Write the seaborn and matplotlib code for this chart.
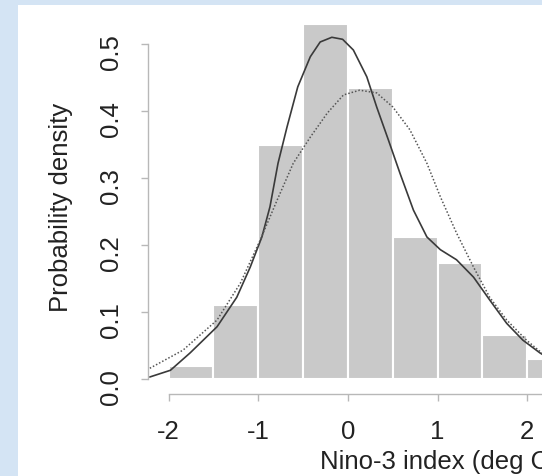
import matplotlib
matplotlib.use('Agg')
import matplotlib.pyplot as plt
import seaborn as sns
from matplotlib.patches import Rectangle
from matplotlib.ticker import FormatStrFormatter

# histogram of the Nino-3 index (density per 0.5 deg bin)
bin_edges = [-2.0, -1.5, -1.0, -0.5, 0.0, 0.5, 1.0, 1.5, 2.0, 2.5]
bin_density = [0.019, 0.111, 0.349, 0.530, 0.434, 0.212, 0.173, 0.066, 0.030]

# kernel density estimate (solid curve)
kde_x = [-2.21, -1.98, -1.76, -1.46, -1.24, -1.09, -0.96, -0.87, -0.78, -0.68,
         -0.56, -0.42, -0.31, -0.18, -0.06, 0.06, 0.21, 0.32, 0.45, 0.58,
         0.73, 0.88, 1.03, 1.21, 1.40, 1.58, 1.77, 1.95, 2.14, 2.30]
kde_y = [0.003, 0.013, 0.039, 0.078, 0.122, 0.167, 0.212, 0.257, 0.322, 0.376,
         0.436, 0.481, 0.503, 0.510, 0.507, 0.491, 0.451, 0.406, 0.357, 0.307,
         0.252, 0.212, 0.193, 0.178, 0.152, 0.118, 0.083, 0.058, 0.039, 0.026]

# fitted normal density (dotted curve)
norm_x = [-2.21, -1.84, -1.46, -1.20, -0.98, -0.79, -0.61, -0.42, -0.23, -0.05,
          0.13, 0.32, 0.50, 0.69, 0.88, 1.03, 1.21, 1.40, 1.58, 1.77,
          1.99, 2.16, 2.30]
norm_y = [0.016, 0.043, 0.088, 0.143, 0.207, 0.267, 0.322, 0.361, 0.397, 0.424,
          0.431, 0.427, 0.406, 0.372, 0.322, 0.272, 0.218, 0.167, 0.122, 0.088,
          0.058, 0.039, 0.028]

bin_mid = [(a + b) / 2 for a, b in zip(bin_edges[:-1], bin_edges[1:])]

sns.set_style('white')
plt.rcParams['font.family'] = ['Liberation Sans', 'DejaVu Sans']
plt.rcParams['axes.unicode_minus'] = False

fig = plt.figure(figsize=(5.42, 4.76), dpi=100)
fig.patch.set_facecolor('#d4e4f4')
fig.patches.append(Rectangle((18 / 542, 0), 1, 471 / 476, transform=fig.transFigure,
                             facecolor='white', edgecolor='none', zorder=-10))

# plot region runs past the right edge of the picture (the original is cropped)
ax = fig.add_axes([148 / 542, 82 / 476, 582 / 542, 374 / 476])
ax.patch.set_alpha(0)

sns.histplot(x=bin_mid, weights=bin_density, bins=bin_edges, stat='count',
             color='#c9c9c9', edgecolor='white', linewidth=1.5, alpha=1, ax=ax)
sns.lineplot(x=kde_x, y=kde_y, estimator=None, sort=False, color='#3a3a3a',
             linewidth=1.2, ax=ax)
sns.lineplot(x=norm_x, y=norm_y, estimator=None, sort=False, color='#555555',
             linewidth=1.1, linestyle=(0, (1, 1.3)), ax=ax)

ax.set_xlim(-2.23, 4.26)
ax.set_ylim(-0.0224, 0.5358)
ax.set_xticks([-2, -1, 0, 1, 2, 3, 4])
ax.set_yticks([0, 0.1, 0.2, 0.3, 0.4, 0.5])
ax.yaxis.set_major_formatter(FormatStrFormatter('%.1f'))

for side in ['top', 'right']:
    ax.spines[side].set_visible(False)
ax.spines['left'].set_bounds(0, 0.5)
ax.spines['bottom'].set_bounds(-2, 4)
for side in ['left', 'bottom']:
    ax.spines[side].set_color('#b8b8b8')
    ax.spines[side].set_linewidth(1)

ax.tick_params(bottom=True, left=True, direction='out', length=5, width=1,
               color='#b8b8b8', labelcolor='#222222', labelsize=18.5)
ax.tick_params(axis='y', labelrotation=90, pad=13)
ax.tick_params(axis='x', pad=14)

ax.set_xlabel('Nino-3 index (deg C)', fontsize=18.5, color='#222222', labelpad=4)
ax.set_ylabel('Probability density', fontsize=18.5, color='#222222', labelpad=19)

fig.savefig('out.png', dpi=100, facecolor=fig.get_facecolor())
